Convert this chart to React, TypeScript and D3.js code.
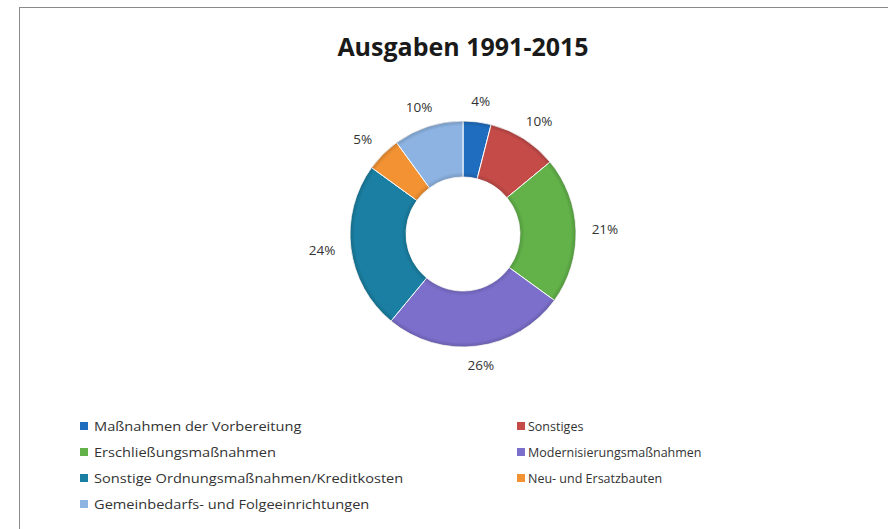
import React, { useRef, useEffect } from 'react';
import * as d3 from 'd3';

const categories = [
  'Maßnahmen der Vorbereitung',
  'Sonstiges',
  'Erschließungsmaßnahmen',
  'Modernisierungsmaßnahmen',
  'Sonstige Ordnungsmaßnahmen/Kreditkosten',
  'Neu- und Ersatzbauten',
  'Gemeinbedarfs- und Folgeeinrichtungen',
];
const values = [4, 10, 21, 26, 24, 5, 10];
const colors = ['#1f6dbf', '#c44b48', '#62b249', '#7b6fcb', '#1a7fa2', '#f29233', '#8cb3e2'];
const title = 'Ausgaben 1991-2015';

const width = 888;
const height = 529;
const font = "'Open Sans', sans-serif";

function App() {
  const svgRef = useRef<SVGSVGElement | null>(null);

  useEffect(() => {
    const svg = d3.select(svgRef.current);
    svg.selectAll('*').remove();

    // background + chart frame (runs off the right/bottom like the scan)
    svg.append('rect').attr('width', width).attr('height', height).attr('fill', '#fff');
    svg.append('rect')
      .attr('x', 19.5).attr('y', 7.5)
      .attr('width', width).attr('height', height)
      .attr('fill', 'none')
      .attr('stroke', '#8a8a8a')
      .attr('stroke-width', 1);

    // title
    svg.append('text')
      .attr('x', 463)
      .attr('y', 56)
      .attr('text-anchor', 'middle')
      .style('font-family', font)
      .style('font-size', '25px')
      .style('font-weight', 'bold')
      .style('fill', '#1a1a1a')
      .text(title);

    // donut
    const cx = 463;
    const cy = 234;
    const outer = 113;
    const inner = 57;

    const pie = d3.pie<number>().sort(null).value(d => d);
    const arcs = pie(values);
    const arc = d3.arc<d3.PieArcDatum<number>>().innerRadius(inner).outerRadius(outer);

    // soft bevel shading at the inner and outer rims
    const defs = svg.append('defs');
    const grad = defs.append('radialGradient')
      .attr('id', 'bevel')
      .attr('gradientUnits', 'userSpaceOnUse')
      .attr('cx', 0).attr('cy', 0).attr('r', outer);
    grad.append('stop').attr('offset', inner / outer).attr('stop-color', '#000').attr('stop-opacity', 0.14);
    grad.append('stop').attr('offset', (inner + 5) / outer).attr('stop-color', '#000').attr('stop-opacity', 0);
    grad.append('stop').attr('offset', (outer - 5) / outer).attr('stop-color', '#000').attr('stop-opacity', 0);
    grad.append('stop').attr('offset', 1).attr('stop-color', '#000').attr('stop-opacity', 0.16);

    const g = svg.append('g').attr('transform', `translate(${cx},${cy})`);

    g.selectAll('.slice')
      .data(arcs)
      .enter()
      .append('path')
      .attr('class', 'slice')
      .attr('d', arc)
      .attr('fill', (d, i) => colors[i])
      .attr('stroke', '#ffffff')
      .attr('stroke-width', 1);

    g.selectAll('.shade')
      .data(arcs)
      .enter()
      .append('path')
      .attr('class', 'shade')
      .attr('d', arc)
      .attr('fill', 'url(#bevel)');

    // labels outside the ring
    const gap = 16;
    g.selectAll('.label')
      .data(arcs)
      .enter()
      .append('text')
      .attr('class', 'label')
      .attr('x', d => {
        const a = (d.startAngle + d.endAngle) / 2;
        return (outer + gap) * Math.sin(a) + Math.sin(a) * 13;
      })
      .attr('y', d => {
        const a = (d.startAngle + d.endAngle) / 2;
        return -(outer + gap) * Math.cos(a) - Math.cos(a) * 4 + 4;
      })
      .attr('text-anchor', 'middle')
      .style('font-family', font)
      .style('font-size', '13.5px')
      .style('fill', '#333')
      .text(d => `${d.data}%`);

    // legend, two columns (left column is stretched in the scan)
    const legend = svg.append('g');
    const colX = [80, 517];
    const textGap = [14, 11];
    const stretch = [1.17, 1];
    const rowY = [426, 452, 478, 504];
    categories.forEach((c, i) => {
      const col = i % 2;
      const x = colX[col];
      const y = rowY[Math.floor(i / 2)];
      legend.append('rect')
        .attr('x', x)
        .attr('y', y - 4)
        .attr('width', 8)
        .attr('height', 8)
        .attr('fill', colors[i]);
      legend.append('text')
        .attr('transform', `translate(${x + textGap[col]},${y + 4.5}) scale(${stretch[col]},1)`)
        .style('font-family', font)
        .style('font-size', '12.5px')
        .style('fill', '#333')
        .text(c);
    });
  }, []);

  return (
    <svg
      ref={svgRef}
      width={width}
      height={height}
      style={{ position: 'absolute', left: 0, top: 0 }}
    />
  );
}

export default App;
